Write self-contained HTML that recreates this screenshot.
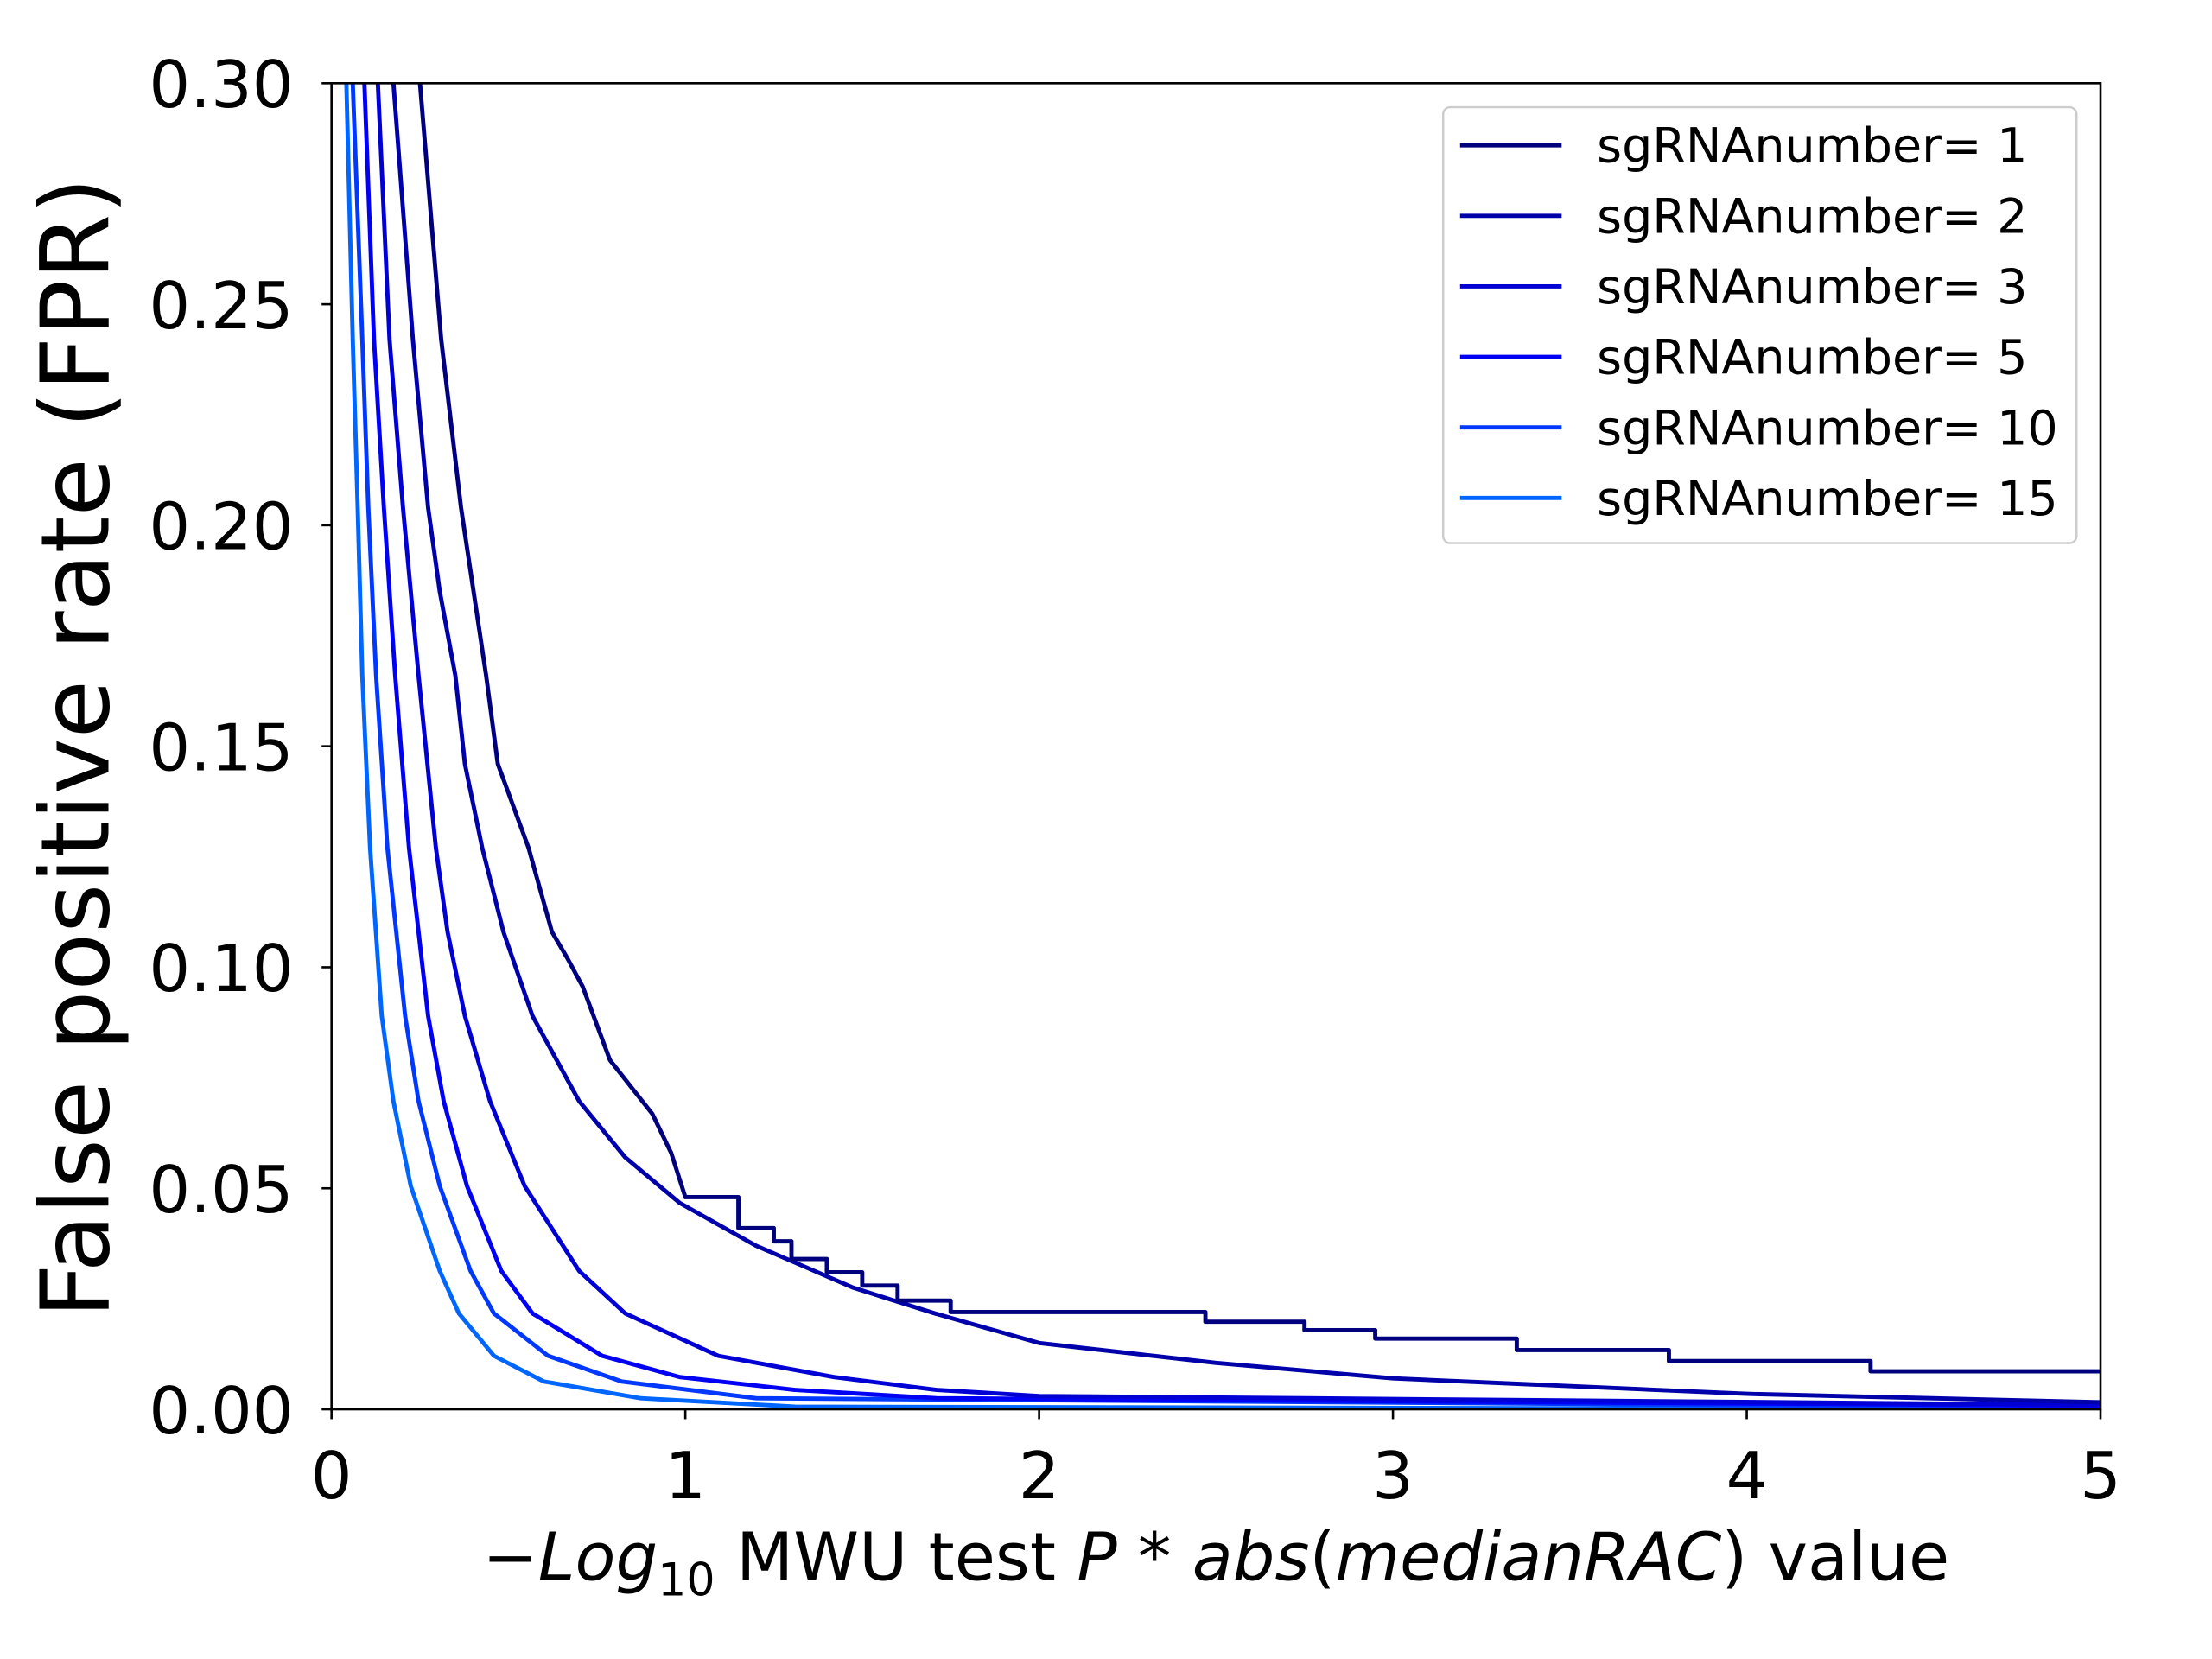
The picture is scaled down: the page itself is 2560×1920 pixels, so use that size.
<!DOCTYPE html>
<html><head><meta charset="utf-8"><style>
html,body{margin:0;padding:0;background:#fff;}
svg{display:block;}
text{font-family:"DejaVu Sans","Liberation Sans",sans-serif;fill:#000;}
</style></head><body>
<svg id="chart" width="2560" height="1920" viewBox="0 0 1568 1176" preserveAspectRatio="none" xmlns="http://www.w3.org/2000/svg">
<defs><clipPath id="plotclip"><rect x="235" y="59" width="1254" height="940"/></clipPath></defs>
<rect width="1568" height="1176" fill="#fff"/>
<g id="series" clip-path="url(#plotclip)"></g>
<rect x="235" y="59" width="1254" height="940" fill="none" stroke="#000" stroke-width="1.6"/>
<g id="ticks"></g>
<text x="862" y="1120" font-size="47" text-anchor="middle">−<tspan font-style="italic">Log</tspan><tspan font-size="32" dy="11">10</tspan><tspan dy="-11"> MWU test </tspan><tspan font-style="italic">P</tspan><tspan> * </tspan><tspan font-style="italic">abs</tspan>(<tspan font-style="italic">medianRAC</tspan>) value</text>
<text transform="translate(77,530) rotate(-90)" font-size="67" text-anchor="middle">False positive rate (FPR)</text>
<g id="legend">
<rect x="1023" y="76" width="449" height="309" rx="5" fill="#fff" stroke="#ccc" stroke-width="1.5"/>
</g>
</svg>
<script>
const labels = ["sgRNAnumber= 1","sgRNAnumber= 2","sgRNAnumber= 3","sgRNAnumber= 5","sgRNAnumber= 10","sgRNAnumber= 15"];
const colors = ["#00007f","#0000aa","#0000d4","#0000f5","#0038ff","#0066ff"];
const xTicks = [0,1,2,3,4,5];
const yTicks = [0.00,0.05,0.10,0.15,0.20,0.25,0.30];
const s1x = [0.25,0.31,0.366,0.437,0.47,0.557,0.623,0.667,0.71,0.787,0.907,0.96,1.0,1.15,1.25,1.3,1.4,1.5,1.6,1.75,2.47,2.75,2.95,3.35,3.78,4.35,5.00];
const s1y = [0.30,0.242,0.204,0.166,0.146,0.127,0.108,0.102,0.0956,0.079,0.0668,0.058,0.048,0.041,0.038,0.034,0.031,0.028,0.0246,0.022,0.0198,0.0179,0.016,0.0134,0.0109,0.0086,0.0086];
const s2x = [0.175,0.23,0.273,0.306,0.35,0.377,0.426,0.486,0.568,0.70,0.83,0.984,1.2,1.475,1.705,2.0,2.5,3.0,4.0,5.0];
const s2y = [0.30,0.242,0.204,0.185,0.166,0.146,0.127,0.108,0.089,0.0697,0.057,0.0467,0.037,0.0275,0.0217,0.0150,0.0105,0.007,0.0035,0.0016];
const s3x = [0.131,0.164,0.202,0.246,0.295,0.328,0.377,0.448,0.546,0.70,0.83,1.093,1.42,1.71,2.0,5.0];
const s3y = [0.30,0.242,0.204,0.166,0.127,0.108,0.089,0.0697,0.0505,0.0313,0.0217,0.0121,0.0073,0.0044,0.003,0.001];
const s5x = [0.093,0.12,0.148,0.18,0.219,0.273,0.317,0.383,0.48,0.568,0.765,0.984,1.31,1.71,5.0];
const s5y = [0.30,0.242,0.204,0.166,0.127,0.089,0.0697,0.0505,0.0313,0.0217,0.0121,0.0073,0.0044,0.0025,0.0008];
const s10x = [0.06,0.087,0.104,0.126,0.158,0.208,0.246,0.306,0.393,0.459,0.612,0.82,1.2,5.0];
const s10y = [0.30,0.242,0.204,0.166,0.127,0.089,0.0697,0.0505,0.0313,0.0217,0.0121,0.0063,0.0025,0.0004];
const s15x = [0.042,0.06,0.074,0.087,0.109,0.142,0.175,0.224,0.306,0.36,0.459,0.60,0.874,1.31,5.0];
const s15y = [0.30,0.242,0.204,0.166,0.127,0.089,0.0697,0.0505,0.0313,0.0217,0.0121,0.0063,0.0025,0.0006,0];
const seriesX = [s1x,s2x,s3x,s5x,s10x,s15x];
const seriesY = [s1y,s2y,s3y,s5y,s10y,s15y];

const NS = "http://www.w3.org/2000/svg";
const X0=235, X1=1489, Y0=999, Y1=59;
function xs(v){return X0+(v-0)/(5-0)*(X1-X0);}
function ys(v){return Y0-(v-0)/(0.30-0)*(Y0-Y1);}

const g = document.getElementById('series');
for (let i=seriesX.length-1;i>=0;i--){
  let d="";
  const xa=seriesX[i], ya=seriesY[i];
  for(let k=0;k<xa.length;k++){
    if(k===0){ d+="M"+xs(xa[k])+","+ys(ya[k]); continue; }
    if(i===0 && xa[k]>=1.1){ d+=" L"+xs(xa[k])+","+ys(ya[k-1])+" L"+xs(xa[k])+","+ys(ya[k]); }
    else d+=" L"+xs(xa[k])+","+ys(ya[k]);
  }
  const p=document.createElementNS(NS,'path');
  p.setAttribute('d',d);
  p.setAttribute('fill','none');
  p.setAttribute('stroke',colors[i]);
  p.setAttribute('stroke-width','3');
  p.setAttribute('stroke-linejoin','round');
  
  
  g.appendChild(p);
}

const tg=document.getElementById('ticks');
xTicks.forEach(t=>{
  const l=document.createElementNS(NS,'line');
  l.setAttribute('x1',xs(t));l.setAttribute('x2',xs(t));l.setAttribute('y1',Y0);l.setAttribute('y2',Y0+7);
  l.setAttribute('stroke','#000');l.setAttribute('stroke-width','1.6');
  
  
  tg.appendChild(l);
  const tx=document.createElementNS(NS,'text');
  tx.setAttribute('x',xs(t));tx.setAttribute('y',1062);tx.setAttribute('font-size','46');tx.setAttribute('text-anchor','middle');
  tx.textContent=String(t);
  
  
  tg.appendChild(tx);
});
yTicks.forEach(t=>{
  const l=document.createElementNS(NS,'line');
  l.setAttribute('x1',X0-7);l.setAttribute('x2',X0);l.setAttribute('y1',ys(t));l.setAttribute('y2',ys(t));
  l.setAttribute('stroke','#000');l.setAttribute('stroke-width','1.6');
  
  
  tg.appendChild(l);
  const tx=document.createElementNS(NS,'text');
  tx.setAttribute('x',X0-27);tx.setAttribute('y',ys(t)+17);tx.setAttribute('font-size','46');tx.setAttribute('text-anchor','end');
  tx.textContent=t.toFixed(2);
  
  
  tg.appendChild(tx);
});

const lg=document.getElementById('legend');
labels.forEach((lab,i)=>{
  const y=103+i*50;
  const l=document.createElementNS(NS,'line');
  l.setAttribute('x1',1035);l.setAttribute('x2',1107);l.setAttribute('y1',y);l.setAttribute('y2',y);
  l.setAttribute('stroke',colors[i]);l.setAttribute('stroke-width','3');
  
  
  lg.appendChild(l);
  const tx=document.createElementNS(NS,'text');
  tx.setAttribute('x',1132);tx.setAttribute('y',y+12);tx.setAttribute('font-size','34');
  tx.textContent=lab;
  
  
  lg.appendChild(tx);
});
</script>
</body></html>
